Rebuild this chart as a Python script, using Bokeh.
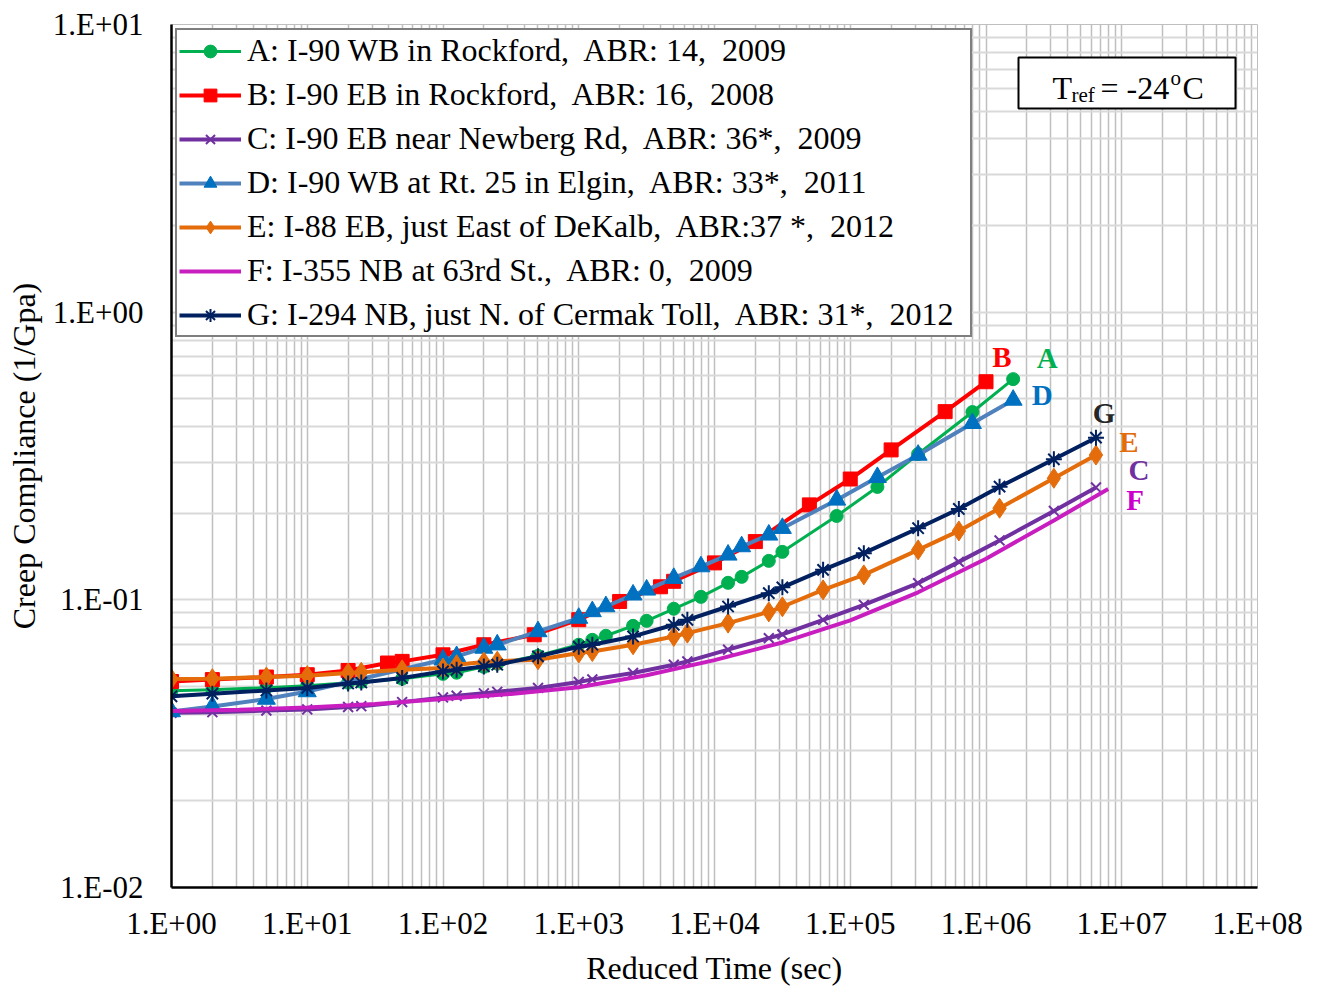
from bokeh.plotting import figure
from bokeh.models import (FixedTicker, CustomJSTickFormatter, Legend, LegendItem,
                          BoxAnnotation, Label, ColumnDataSource)
from bokeh.embed import file_html
from bokeh.resources import INLINE
from bokeh.core.properties import value

FONT = "Liberation Serif"

# ---------------- data (reduced time in s, creep compliance in 1/GPa) ----------------
time_A = [1, 2, 5, 10, 20, 25, 50, 100, 126, 200, 251, 501, 1000, 1259, 1585, 2512, 3162,
          5012, 7943, 12589, 15849, 25119, 31623, 79433, 158489, 316228, 794328, 1584893]
comp_A = [0.0483, 0.0487, 0.0495, 0.0503, 0.0515, 0.0519, 0.0532, 0.0553, 0.0558, 0.0585,
          0.0600, 0.0639, 0.0698, 0.0726, 0.0750, 0.0812, 0.0845, 0.0931, 0.1024, 0.1146,
          0.1202, 0.1366, 0.1468, 0.1957, 0.2469, 0.3213, 0.4496, 0.5851]

time_B = [1, 2, 5, 10, 20, 39, 50, 100, 200, 470, 1000, 2000, 4000, 5000, 10000, 20000,
          50000, 100000, 200000, 500000, 1000000]
comp_B = [0.0520, 0.0528, 0.0539, 0.0549, 0.0568, 0.0603, 0.0611, 0.0644, 0.0698, 0.0756,
          0.0853, 0.0987, 0.111, 0.116, 0.1344, 0.1594, 0.2138, 0.263, 0.332, 0.451, 0.573]

time_C = [1, 2, 5, 10, 20, 25, 50, 100, 126, 200, 251, 501, 1000, 1259, 2512, 5012, 6310,
          12589, 25119, 31623, 63096, 125893, 316228, 630957, 1258925, 3162278, 6456542]
comp_C = [0.0405, 0.0407, 0.0412, 0.0416, 0.0424, 0.0427, 0.0441, 0.0458, 0.0464, 0.0473,
          0.0479, 0.0494, 0.0518, 0.0529, 0.0557, 0.0595, 0.0611, 0.0671, 0.0736, 0.0758,
          0.0852, 0.0961, 0.1143, 0.1355, 0.1609, 0.2037, 0.2459]

time_D = [1, 2, 5, 10, 100, 126, 200, 251, 501, 1000, 1259, 1585, 2512, 3162, 5012, 7943,
          12589, 15849, 25119, 31623, 79433, 158489, 316228, 794328, 1584893]
comp_D = [0.0409, 0.0426, 0.0452, 0.0480, 0.0619, 0.0636, 0.0680, 0.0698, 0.0776, 0.0864,
          0.0911, 0.0948, 0.1041, 0.1083, 0.1189, 0.1305, 0.1433, 0.1532, 0.1682, 0.1774,
          0.2225, 0.2667, 0.3187, 0.4108, 0.4950]

time_E = [1, 2, 5, 10, 20, 25, 50, 100, 126, 200, 251, 501, 1000, 1259, 2512, 5012, 6310,
          12589, 25119, 31623, 63096, 125893, 316228, 630957, 1258925, 3162278, 6456542]
comp_E = [0.0531, 0.0532, 0.0539, 0.0545, 0.0557, 0.0560, 0.0571, 0.0579, 0.0595, 0.0608,
          0.0612, 0.0619, 0.0653, 0.0661, 0.0698, 0.0746, 0.0766, 0.0830, 0.0908, 0.0946,
          0.1083, 0.1221, 0.1492, 0.1736, 0.2082, 0.2646, 0.3187]

time_F = [1, 3.16, 10, 31.6, 100, 316, 1000, 3162, 10000, 31623, 100000, 316228, 1000000,
          3162278, 7943282]
comp_F = [0.0411, 0.0415, 0.0422, 0.0434, 0.0452, 0.0471, 0.0497, 0.0547, 0.0617, 0.0711,
          0.0849, 0.1062, 0.1390, 0.1888, 0.2427]

time_G = [1, 2, 5, 10, 20, 25, 50, 100, 126, 200, 251, 501, 1000, 1259, 2512, 5012, 6310,
          12589, 25119, 31623, 63096, 125893, 316228, 630957, 1258925, 3162278, 6456542]
comp_G = [0.0462, 0.0472, 0.0484, 0.0494, 0.0512, 0.0516, 0.0535, 0.0564, 0.0571, 0.0587,
          0.0595, 0.0636, 0.0687, 0.0698, 0.0746, 0.0819, 0.0852, 0.0948, 0.1055, 0.1105,
          0.1271, 0.1453, 0.1774, 0.2070, 0.2474, 0.3079, 0.3662]

NB = "\u00a0 "
series_names = [
    "A: I-90 WB in Rockford," + NB + "ABR: 14," + NB + "2009",
    "B: I-90 EB in Rockford," + NB + "ABR: 16," + NB + "2008",
    "C: I-90 EB near Newberg Rd," + NB + "ABR: 36*," + NB + "2009",
    "D: I-90 WB at Rt. 25 in Elgin," + NB + "ABR: 33*," + NB + "2011",
    "E: I-88 EB, just East of DeKalb," + NB + "ABR:37 *," + NB + "2012",
    "F: I-355 NB at 63rd St.," + NB + "ABR: 0," + NB + "2009",
    "G: I-294 NB, just N. of Cermak Toll," + NB + "ABR: 31*," + NB + "2012",
]
end_letters = ["A", "B", "C", "D", "E", "F", "G"]
x_ticks = [1e0, 1e1, 1e2, 1e3, 1e4, 1e5, 1e6, 1e7, 1e8]
y_ticks = [1e-2, 1e-1, 1e0, 1e1]

# ---------------- styles ----------------
line_colors = ["#00B050", "#FF0000", "#7030A0", "#4F81BD", "#E46C0A", "#C81EC0", "#002060"]
marker_colors = ["#00B050", "#FF0000", "#7030A0", "#0070C0", "#E46C0A", None, "#002060"]
markers = ["circle", "square", "x", "triangle", "diamond", None, "asterisk"]
marker_sizes = [13, 14, 14, 18, 20, 0, 16]
line_widths = [3, 4, 4, 4, 4, 4, 4]
letter_colors = ["#00B050", "#FF0000", "#7030A0", "#0070C0", "#E46C0A", "#CC00CC", "#262626"]
letter_dx = [34, 16, 43, 29, 33, 27, 8]
letter_dy = [-21, -25, -17, -5, -13, 11, -25]

times = [time_A, time_B, time_C, time_D, time_E, time_F, time_G]
comps = [comp_A, comp_B, comp_C, comp_D, comp_E, comp_F, comp_G]

p = figure(width=1324, height=988, x_axis_type="log", y_axis_type="log",
           x_range=(1, 1e8), y_range=(0.01, 10),
           output_backend="svg", toolbar_location=None,
           min_border_left=171, min_border_right=67, min_border_top=24, min_border_bottom=100)
p.background_fill_color = "white"
p.border_fill_color = "white"
p.outline_line_color = "#bfbfbf"

fmt = CustomJSTickFormatter(code="""
const e = Math.round(Math.log10(tick));
const s = e < 0 ? "-" : "+";
const a = Math.abs(e);
return "1.E" + s + (a < 10 ? "0" : "") + a;
""")

x_minor = [m * 10 ** d for d in range(0, 8) for m in range(2, 10)]
y_minor = [m * 10 ** d for d in range(-2, 1) for m in range(2, 10)]
p.xaxis.ticker = FixedTicker(ticks=x_ticks, minor_ticks=x_minor)
p.yaxis.ticker = FixedTicker(ticks=y_ticks, minor_ticks=y_minor)
p.xgrid.ticker = p.xaxis.ticker
p.ygrid.ticker = p.yaxis.ticker
for ax in (p.xaxis, p.yaxis):
    ax.formatter = fmt
    ax.major_tick_line_color = None
    ax.minor_tick_line_color = None
    ax.axis_line_color = "black"
    ax.axis_line_width = 2.5
    ax.major_label_text_font = FONT
    ax.major_label_text_font_size = "31px"
    ax.major_label_text_color = "black"
    ax.axis_label_text_font = FONT
    ax.axis_label_text_font_size = "32px"
    ax.axis_label_text_font_style = "normal"
    ax.axis_label_text_color = "black"
p.xaxis.axis_label = "Reduced Time (sec)"
p.yaxis.axis_label = "Creep Compliance (1/Gpa)"
p.xaxis.major_label_standoff = 12
p.yaxis.major_label_standoff = 22
p.xaxis.axis_label_standoff = 6
p.yaxis.axis_label_standoff = 8

p.xgrid.grid_line_color = "#bfbfbf"
p.xgrid.grid_line_width = 1.5
p.xgrid.minor_grid_line_color = "#bfbfbf"
p.xgrid.minor_grid_line_width = 1.5
p.ygrid.grid_line_color = "#d9d9d9"
p.ygrid.grid_line_width = 2
p.ygrid.minor_grid_line_color = "#d9d9d9"
p.ygrid.minor_grid_line_width = 2

items = []
for i in range(7):
    src = ColumnDataSource(dict(t=times[i], j=comps[i]))
    rends = [p.line("t", "j", source=src, line_color=line_colors[i], line_width=line_widths[i])]
    if markers[i] is not None:
        if markers[i] in ("x", "asterisk"):
            r = p.scatter("t", "j", source=src, marker=markers[i], size=marker_sizes[i],
                          line_color=marker_colors[i], line_width=2)
        else:
            r = p.scatter("t", "j", source=src, marker=markers[i], size=marker_sizes[i],
                          fill_color=marker_colors[i], line_color=marker_colors[i])
        rends.append(r)
    items.append(LegendItem(label=series_names[i], renderers=rends))

# end-of-curve letters
lab_src = ColumnDataSource(dict(
    x=[t[-1] for t in times], y=[c[-1] for c in comps], text=end_letters,
    color=letter_colors, dx=letter_dx, dy=letter_dy))
p.text("x", "y", text="text", source=lab_src, text_color="color", x_offset="dx", y_offset="dy",
       text_font=value(FONT), text_font_size="29px", text_font_style="bold",
       text_align="center", text_baseline="middle")

legend = Legend(items=items, location="top_left", margin=4, padding=2, spacing=7,
                glyph_width=62, glyph_height=32, label_height=32, label_standoff=6,
                label_width=721,
                label_text_font=FONT, label_text_font_size="32px", label_text_color="black",
                border_line_color="black", border_line_width=2,
                background_fill_color="white", background_fill_alpha=1.0)
p.add_layout(legend)

# reference temperature box
p.add_layout(BoxAnnotation(left=847, right=1064, top=830, bottom=779,
                           left_units="screen", right_units="screen",
                           top_units="screen", bottom_units="screen",
                           fill_color="white", fill_alpha=1.0,
                           line_color="black", line_alpha=1.0, line_width=2))
tref_parts = [("T", 881, 800, "32px"), ("ref", 900, 793, "21px"), ("= -24", 929, 800, "32px"),
              ("o", 999, 810, "21px"), ("C", 1011, 800, "32px")]
for txt, sx, sy, fs in tref_parts:
    p.add_layout(Label(x=sx, y=sy, x_units="screen", y_units="screen", text=txt,
                       text_font=FONT, text_font_size=fs, text_color="black",
                       text_align="left", text_baseline="alphabetic"))

open("out.html", "w").write(file_html(p, INLINE))
